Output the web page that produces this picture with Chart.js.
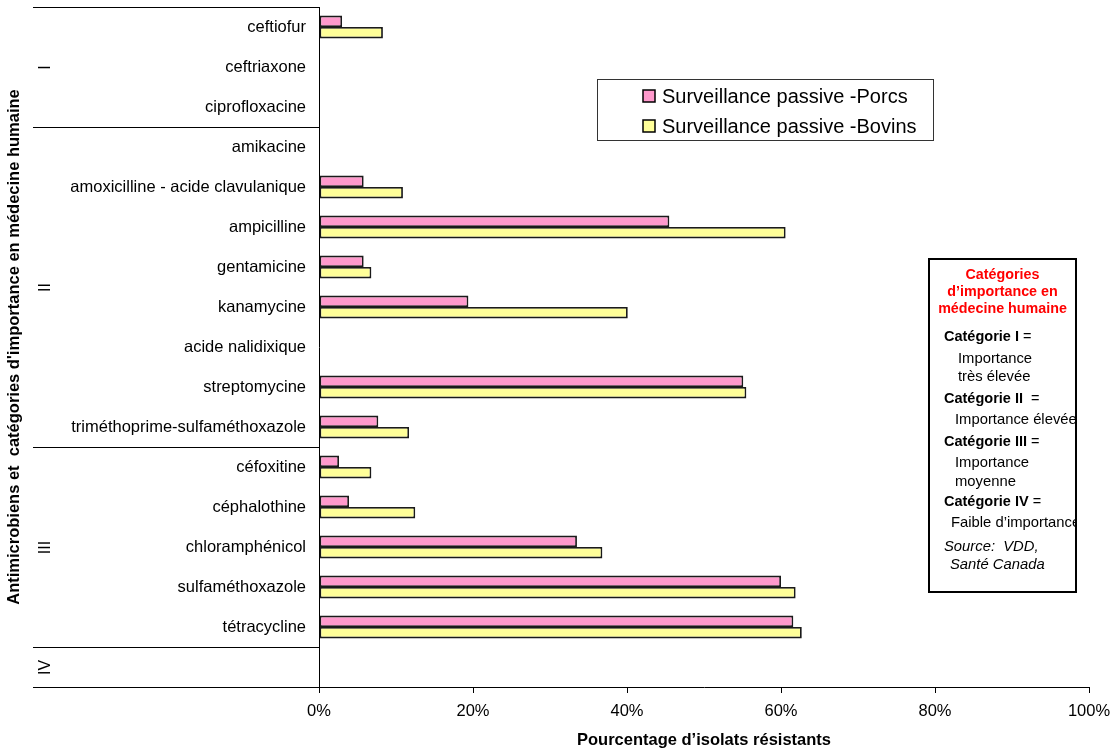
<!DOCTYPE html>
<html>
<head>
<meta charset="utf-8">
<script src="https://cdn.jsdelivr.net/npm/chart.js@4/dist/chart.umd.min.js"></script>
<style>
  body { margin: 0; background: #fff; }
  #wrap { position: relative; width: 1114px; height: 755px; }
  #info {
    position: absolute; left: 928px; top: 258px; width: 145px; height: 331px; overflow: hidden;
    border: 2px solid #000; font-family: 'Liberation Sans', Arial, sans-serif; color: #000;
  }
  #info div { position: absolute; white-space: nowrap; line-height: 16px; }
  #info .red { color: #ff0000; font-weight: bold; font-size: 14.3px; width: 145px; text-align: center; left: 0; }
  #info .cat { font-weight: 900; font-size: 14.5px; }
  #info .cat span { font-weight: normal; }
  #info .txt { font-size: 14.8px; }
  #info .src { font-size: 14.8px; font-style: italic; }
</style>
</head>
<body>
<div id="wrap">
  <canvas id="chart" width="1114" height="755"></canvas>
  <div id="info">
    <div class="red" style="top:6px">Catégories</div>
    <div class="red" style="top:23px">d’importance en</div>
    <div class="red" style="top:40px">médecine humaine</div>
    <div class="cat" style="left:14px;top:68px">Catégorie I <span>=</span></div>
    <div class="txt" style="left:28px;top:90px">Importance</div>
    <div class="txt" style="left:28px;top:108px">très élevée</div>
    <div class="cat" style="left:14px;top:130px">Catégorie II&nbsp; <span>=</span></div>
    <div class="txt" style="left:25px;top:151px">Importance élevée</div>
    <div class="cat" style="left:14px;top:173px">Catégorie III <span>=</span></div>
    <div class="txt" style="left:25px;top:194px">Importance</div>
    <div class="txt" style="left:25px;top:213px">moyenne</div>
    <div class="cat" style="left:14px;top:233px">Catégorie IV <span>=</span></div>
    <div class="txt" style="left:21px;top:254px">Faible d’importance</div>
    <div class="src" style="left:14px;top:278px">Source:&nbsp; VDD,</div>
    <div class="src" style="left:20px;top:296px">Santé Canada</div>
  </div>
</div>
<script>
const categories = [
  'ceftiofur', 'ceftriaxone', 'ciprofloxacine',
  'amikacine', 'amoxicilline - acide clavulanique', 'ampicilline', 'gentamicine',
  'kanamycine', 'acide nalidixique', 'streptomycine', 'triméthoprime-sulfaméthoxazole',
  'céfoxitine', 'céphalothine', 'chloramphénicol', 'sulfaméthoxazole', 'tétracycline',
  ''
];
const porcs  = [3.0, 0, 0, 0, 5.8, 45.5, 5.8, 19.4, 0, 55.1, 7.7, 2.6, 3.9, 33.5, 60.0, 61.6, 0];
const bovins = [8.3, 0, 0, 0, 10.9, 60.6, 6.8, 40.1, 0, 55.5, 11.7, 6.8, 12.5, 36.8, 61.9, 62.7, 0];
const seriesNames = ['Surveillance passive -Porcs', 'Surveillance passive -Bovins'];
const groupLabels = ['I', 'II', 'III', 'IV'];
const groupSizes = [3, 8, 5, 1];
const xTicks = [0, 20, 40, 60, 80, 100];

const FONT = "'Liberation Sans', Arial, sans-serif";

// group separators, roman numerals and the boxed legend
const extras = {
  id: 'extras',
  afterDraw(chart) {
    const c = chart.ctx;
    const y = chart.scales.y;
    const left = chart.chartArea.left;
    const step = y.getPixelForValue(1) - y.getPixelForValue(0);
    c.save();
    c.strokeStyle = '#000';
    c.lineWidth = 1;
    let start = 0;
    const edge = i => Math.round(y.getPixelForValue(i) - step / 2) + 0.5;
    c.beginPath();
    c.moveTo(33, edge(0)); c.lineTo(left, edge(0));
    groupSizes.forEach((n, g) => {
      const end = start + n;
      c.moveTo(33, edge(end)); c.lineTo(left, edge(end));
      const mid = (edge(start) + edge(end)) / 2;
      c.save();
      c.translate(46, mid);
      c.rotate(-Math.PI / 2);
      c.fillStyle = '#000';
      c.font = '16px ' + FONT;
      c.textAlign = 'center';
      c.textBaseline = 'middle';
      c.fillText(groupLabels[g], 0, 0);
      c.restore();
      start = end;
    });
    c.stroke();

    // legend
    c.strokeStyle = '#333';
    c.strokeRect(597.5, 79.5, 336, 61);
    chart.data.datasets.forEach((ds, i) => {
      const ly = 96 + i * 30;
      c.fillStyle = ds.backgroundColor;
      c.fillRect(643, ly - 6, 12, 12);
      c.strokeStyle = '#000';
      c.lineWidth = 1.5;
      c.strokeRect(643, ly - 6, 12, 12);
      c.fillStyle = '#000';
      c.font = '20px ' + FONT;
      c.textAlign = 'left';
      c.textBaseline = 'middle';
      c.fillText(ds.label, 662, ly + 1);
    });
    c.restore();
  }
};

new Chart(document.getElementById('chart'), {
  type: 'bar',
  data: {
    labels: categories,
    datasets: [
      { label: seriesNames[0], data: porcs, backgroundColor: '#ff99cc', borderColor: '#1a1a1a', borderWidth: 1.8, borderSkipped: false },
      { label: seriesNames[1], data: bovins, backgroundColor: '#ffff99', borderColor: '#1a1a1a', borderWidth: 1.8, borderSkipped: false }
    ]
  },
  options: {
    indexAxis: 'y',
    responsive: false,
    animation: false,
    layout: { padding: { top: 7, right: 25, left: 0, bottom: 0 } },
    datasets: { bar: { categoryPercentage: 0.57, barPercentage: 1.0 } },
    plugins: { legend: { display: false }, tooltip: { enabled: false } },
    scales: {
      x: {
        min: 0, max: 100,
        afterBuildTicks: s => { s.ticks = xTicks.map(v => ({ value: v })); },
        afterFit: s => { s.height = 68; s.paddingLeft = 0; s.paddingRight = 0; },
        grid: { drawOnChartArea: false, drawTicks: true, tickLength: 6, color: '#000' },
        border: { display: true, color: '#000', width: 1 },
        ticks: { callback: v => v + '%', color: '#000', font: { family: FONT, size: 16.5 }, padding: 9, maxRotation: 0 },
        title: { display: true, text: 'Pourcentage d’isolats résistants', color: '#000', font: { family: FONT, size: 16.5, weight: 'bold' }, padding: { top: 4, bottom: 5 } }
      },
      y: {
        afterFit: s => { s.width = 319; s.paddingTop = 0; s.paddingBottom = 0; },
        grid: { drawOnChartArea: false, drawTicks: false },
        border: { display: true, color: '#000', width: 1 },
        ticks: { autoSkip: false, color: '#000', font: { family: FONT, size: 16.5 }, padding: 13 },
        title: { display: true, text: 'Antimicrobiens et  catégories d\'importance en médecine humaine', color: '#000', font: { family: FONT, size: 16.5, weight: 'bold' }, padding: { top: 5, bottom: 0 } }
      }
    }
  },
  plugins: [extras]
});
</script>
</body>
</html>
